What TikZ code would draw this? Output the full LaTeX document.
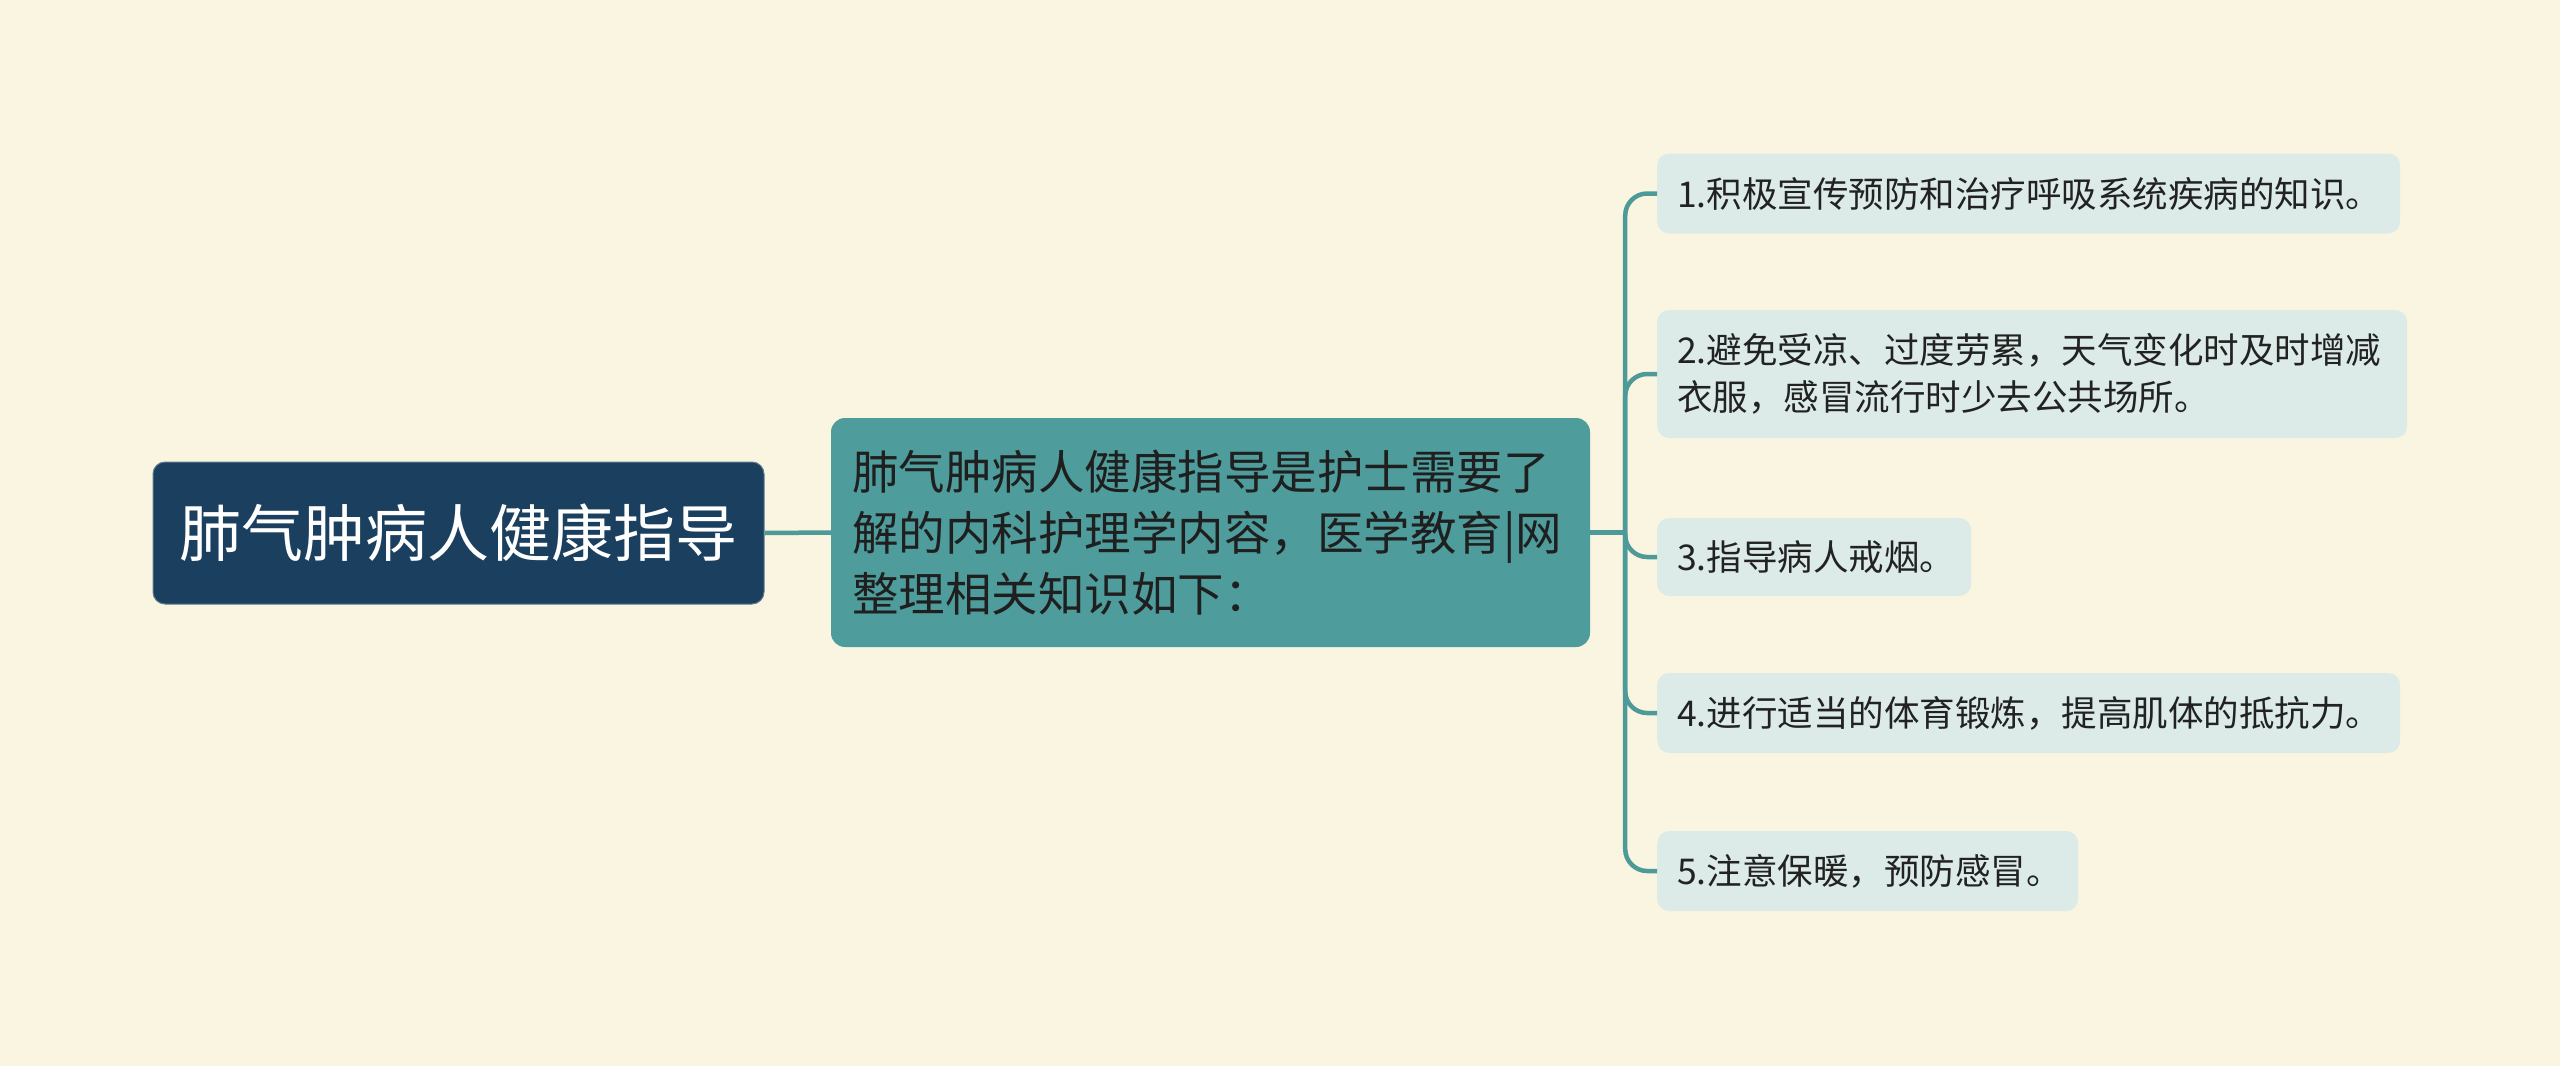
\documentclass[tikz,border=0pt]{standalone}
\usepackage{fontspec}
\setmainfont{Noto Sans CJK SC}
\definecolor{bgc}{HTML}{FAF5E0}
\definecolor{rootc}{HTML}{1A3F5F}
\definecolor{midc}{HTML}{4E9C9B}
\definecolor{leafc}{HTML}{DCEBE8}
\definecolor{linec}{HTML}{4E9A99}
\definecolor{txtc}{HTML}{222222}
\tikzset{
  rootbox/.style={fill=rootc, draw=rootc!70!white, line width=1pt, rounded corners=12pt, text=white,
    minimum width=611pt, minimum height=142pt, inner sep=0pt,
    font=\fontsize{62}{74}\selectfont},
  midbox/.style={fill=midc, rounded corners=14pt, text=txtc!90!black,
    minimum width=759pt, minimum height=229pt, inner xsep=21pt, inner ysep=0pt,
    text width=717pt, align=left,
    font=\fontsize{46.5}{61}\selectfont},
  leafbox/.style={fill=leafc, rounded corners=12pt, text=txtc, anchor=west,
    inner xsep=20pt, inner ysep=0pt, align=left,
    font=\fontsize{35.5}{47}\selectfont},
  conn/.style={draw=linec, line width=4.5pt},
}
\begin{document}
\begin{tikzpicture}[x=1pt,y=-1pt]
\useasboundingbox (0,0) rectangle (2560,1066);
\fill[bgc] (0,0) rectangle (2560,1066);

\node[rootbox] (root) at (458.5,533) {肺气肿病人健康指导};
\node[midbox] (mid) at (1210.5,532.5) {肺气肿病人健康指导是护士需要了\\解的内科护理学内容，医学教育|网\\整理相关知识如下：};

\node[leafbox, minimum width=743pt, minimum height=80pt, text width=703pt] (l1) at (1657,193.5) {1.积极宣传预防和治疗呼吸系统疾病的知识。};
\node[leafbox, minimum width=750pt, minimum height=128pt, text width=710pt] (l2) at (1657,374) {2.避免受凉、过度劳累，天气变化时及时增减\\衣服，感冒流行时少去公共场所。};
\node[leafbox, minimum width=314pt, minimum height=78pt, text width=274pt] (l3) at (1657,557) {3.指导病人戒烟。};
\node[leafbox, minimum width=743pt, minimum height=80pt, text width=703pt] (l4) at (1657,713) {4.进行适当的体育锻炼，提高肌体的抵抗力。};
\node[leafbox, minimum width=421pt, minimum height=80pt, text width=381pt] (l5) at (1657,871) {5.注意保暖，预防感冒。};

\draw[conn] (root.east) -- (mid.west);
\coordinate (j) at ([xshift=35pt]mid.east);
\draw[conn] (mid.east) -- (j);
\foreach \n in {l1,l2,l3,l4,l5}{
  \draw[conn, rounded corners=22pt] (j) |- (\n.west);
}
\end{tikzpicture}
\end{document}
